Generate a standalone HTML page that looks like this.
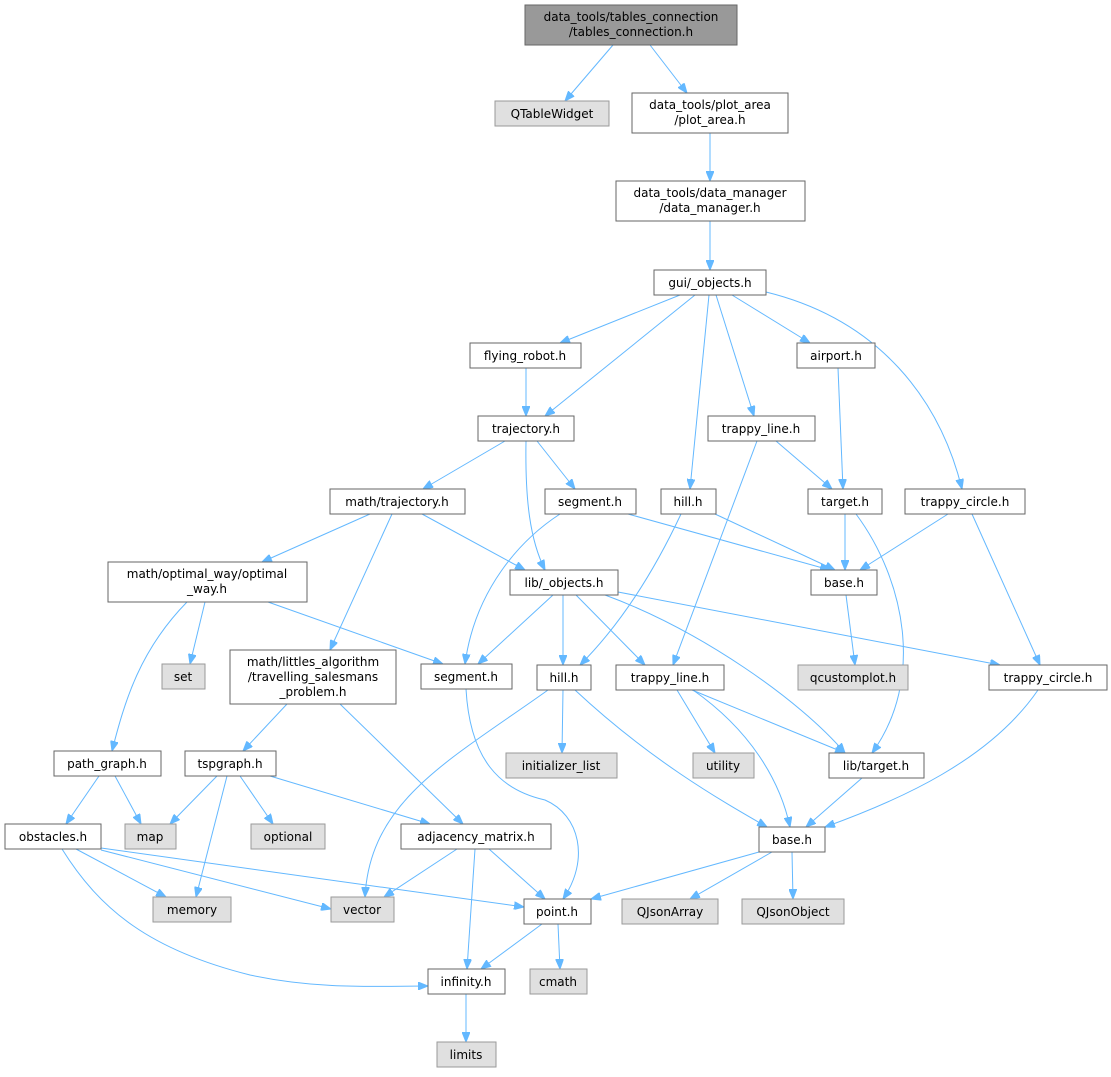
<!DOCTYPE html>
<html><head><meta charset="utf-8"><style>
html,body{margin:0;padding:0;background:#fff;}
svg{display:block;}
text{font-family:"DejaVu Sans","Liberation Sans",sans-serif;font-size:12px;fill:#000;text-anchor:middle;}
.w{fill:#fff;stroke:#666;stroke-width:1;}
.g{fill:#e0e0e0;stroke:#999;stroke-width:1;}
.r{fill:#999;stroke:#666;stroke-width:1;}
path{fill:none;stroke:#63b8ff;stroke-width:1;}
</style></head><body>
<svg width="1111" height="1077" viewBox="0 0 1111 1077" xmlns="http://www.w3.org/2000/svg">
<defs><marker id="a" markerWidth="10" markerHeight="8" refX="10" refY="4" orient="auto" markerUnits="userSpaceOnUse"><path d="M0,0 L10,4 L0,8 z" style="fill:#63b8ff;stroke:#63b8ff"/></marker></defs>
<g marker-end="url(#a)">
<path d="M613,45 L565,101"/>
<path d="M650,45 L687,93"/>
<path d="M710,133 L710,181"/>
<path d="M710,221 L710,270"/>
<path d="M680,295 L560,343"/>
<path d="M695,295 L545,416"/>
<path d="M709,295 L690,489"/>
<path d="M716,295 L754,416"/>
<path d="M732,295 L810,343"/>
<path d="M766,292 C880,320 940,400 962,489"/>
<path d="M526,368 L526,416"/>
<path d="M838,368 L843,489"/>
<path d="M776,441 L832,489"/>
<path d="M757,441 L673,665"/>
<path d="M505,441 L423,489"/>
<path d="M537,441 L575,489"/>
<path d="M526,441 C525,500 530,540 545,570"/>
<path d="M370,514 L262,562"/>
<path d="M392,514 L330,650"/>
<path d="M422,514 L525,570"/>
<path d="M560,514 C520,540 475,590 465,664"/>
<path d="M628,514 L830,570"/>
<path d="M681,514 C650,580 615,630 580,665"/>
<path d="M715,514 L835,570"/>
<path d="M845,514 L845,570"/>
<path d="M856,514 C905,580 925,680 872,753"/>
<path d="M948,514 L860,570"/>
<path d="M972,514 L1040,665"/>
<path d="M553,595 L478,664"/>
<path d="M563,595 L563,665"/>
<path d="M576,595 L645,665"/>
<path d="M605,595 C700,630 800,700 845,753"/>
<path d="M618,592 L1000,665"/>
<path d="M846,595 L855,665"/>
<path d="M205,602 L190,664"/>
<path d="M268,602 L443,664"/>
<path d="M187,602 C140,650 125,700 112,751"/>
<path d="M287,704 L243,751"/>
<path d="M340,704 L463,824"/>
<path d="M466,689 C470,760 500,790 545,800 C580,815 590,860 563,899"/>
<path d="M563,690 L562,753"/>
<path d="M548,690 C450,760 370,800 365,897"/>
<path d="M575,690 C650,760 720,800 767,827"/>
<path d="M677,690 L715,753"/>
<path d="M693,690 C750,730 780,780 790,827"/>
<path d="M692,690 L845,753"/>
<path d="M862,778 L806,827"/>
<path d="M1038,690 C990,760 900,800 825,827"/>
<path d="M99,776 L66,824"/>
<path d="M115,776 L141,824"/>
<path d="M217,776 L170,824"/>
<path d="M227,776 L196,897"/>
<path d="M240,776 L273,824"/>
<path d="M270,776 L430,824"/>
<path d="M76,849 L166,897"/>
<path d="M101,850 L331,909"/>
<path d="M101,848 L524,907"/>
<path d="M62,849 C100,910 150,950 250,975 C320,990 380,986 428,986"/>
<path d="M457,849 L384,897"/>
<path d="M489,849 L545,899"/>
<path d="M475,849 L467,969"/>
<path d="M759,852 L591,899"/>
<path d="M772,852 L690,899"/>
<path d="M792,852 L793,899"/>
<path d="M542,924 L481,969"/>
<path d="M558,924 L560,969"/>
<path d="M466,994 L466,1042"/>
</g>
<rect class="r" x="525" y="5" width="212" height="40"/><text x="631" y="21">data_tools/tables_connection</text><text x="631" y="36">/tables_connection.h</text>
<rect class="g" x="495" y="101" width="114" height="25"/><text x="552" y="118">QTableWidget</text>
<rect class="w" x="632" y="93" width="156" height="40"/><text x="710" y="109">data_tools/plot_area</text><text x="710" y="124">/plot_area.h</text>
<rect class="w" x="616" y="181" width="189" height="40"/><text x="710" y="197">data_tools/data_manager</text><text x="710" y="212">/data_manager.h</text>
<rect class="w" x="654" y="270" width="112" height="25"/><text x="710" y="287">gui/_objects.h</text>
<rect class="w" x="470" y="343" width="111" height="25"/><text x="525" y="360">flying_robot.h</text>
<rect class="w" x="797" y="343" width="78" height="25"/><text x="836" y="360">airport.h</text>
<rect class="w" x="478" y="416" width="96" height="25"/><text x="526" y="433">trajectory.h</text>
<rect class="w" x="708" y="416" width="107" height="25"/><text x="761" y="433">trappy_line.h</text>
<rect class="w" x="330" y="489" width="135" height="25"/><text x="397" y="506">math/trajectory.h</text>
<rect class="w" x="545" y="489" width="91" height="25"/><text x="590" y="506">segment.h</text>
<rect class="w" x="661" y="489" width="55" height="25"/><text x="688" y="506">hill.h</text>
<rect class="w" x="808" y="489" width="74" height="25"/><text x="845" y="506">target.h</text>
<rect class="w" x="905" y="489" width="120" height="25"/><text x="965" y="506">trappy_circle.h</text>
<rect class="w" x="108" y="562" width="199" height="40"/><text x="207" y="578">math/optimal_way/optimal</text><text x="207" y="593">_way.h</text>
<rect class="w" x="510" y="570" width="108" height="25"/><text x="564" y="587">lib/_objects.h</text>
<rect class="w" x="811" y="570" width="66" height="25"/><text x="844" y="587">base.h</text>
<rect class="g" x="162" y="664" width="43" height="25"/><text x="183" y="681">set</text>
<rect class="w" x="230" y="650" width="166" height="54"/><text x="313" y="666">math/littles_algorithm</text><text x="313" y="681">/travelling_salesmans</text><text x="313" y="696">_problem.h</text>
<rect class="w" x="421" y="664" width="91" height="25"/><text x="466" y="681">segment.h</text>
<rect class="w" x="537" y="665" width="54" height="25"/><text x="564" y="682">hill.h</text>
<rect class="w" x="616" y="665" width="108" height="25"/><text x="670" y="682">trappy_line.h</text>
<rect class="g" x="798" y="665" width="110" height="25"/><text x="853" y="682">qcustomplot.h</text>
<rect class="w" x="989" y="665" width="118" height="25"/><text x="1048" y="682">trappy_circle.h</text>
<rect class="w" x="54" y="751" width="107" height="25"/><text x="107" y="768">path_graph.h</text>
<rect class="w" x="185" y="751" width="91" height="25"/><text x="230" y="768">tspgraph.h</text>
<rect class="g" x="506" y="753" width="111" height="25"/><text x="561" y="770">initializer_list</text>
<rect class="g" x="693" y="753" width="61" height="25"/><text x="723" y="770">utility</text>
<rect class="w" x="829" y="753" width="95" height="25"/><text x="876" y="770">lib/target.h</text>
<rect class="w" x="5" y="824" width="96" height="25"/><text x="53" y="841">obstacles.h</text>
<rect class="g" x="125" y="824" width="51" height="25"/><text x="150" y="841">map</text>
<rect class="g" x="251" y="824" width="74" height="25"/><text x="288" y="841">optional</text>
<rect class="w" x="401" y="824" width="150" height="25"/><text x="476" y="841">adjacency_matrix.h</text>
<rect class="w" x="759" y="827" width="66" height="25"/><text x="792" y="844">base.h</text>
<rect class="g" x="153" y="897" width="78" height="25"/><text x="192" y="914">memory</text>
<rect class="g" x="331" y="897" width="63" height="25"/><text x="362" y="914">vector</text>
<rect class="w" x="524" y="899" width="67" height="25"/><text x="557" y="916">point.h</text>
<rect class="g" x="622" y="899" width="96" height="25"/><text x="670" y="916">QJsonArray</text>
<rect class="g" x="742" y="899" width="102" height="25"/><text x="793" y="916">QJsonObject</text>
<rect class="w" x="428" y="969" width="77" height="25"/><text x="466" y="986">infinity.h</text>
<rect class="g" x="530" y="969" width="57" height="25"/><text x="558" y="986">cmath</text>
<rect class="g" x="437" y="1042" width="59" height="25"/><text x="466" y="1059">limits</text>
</svg>
</body></html>
